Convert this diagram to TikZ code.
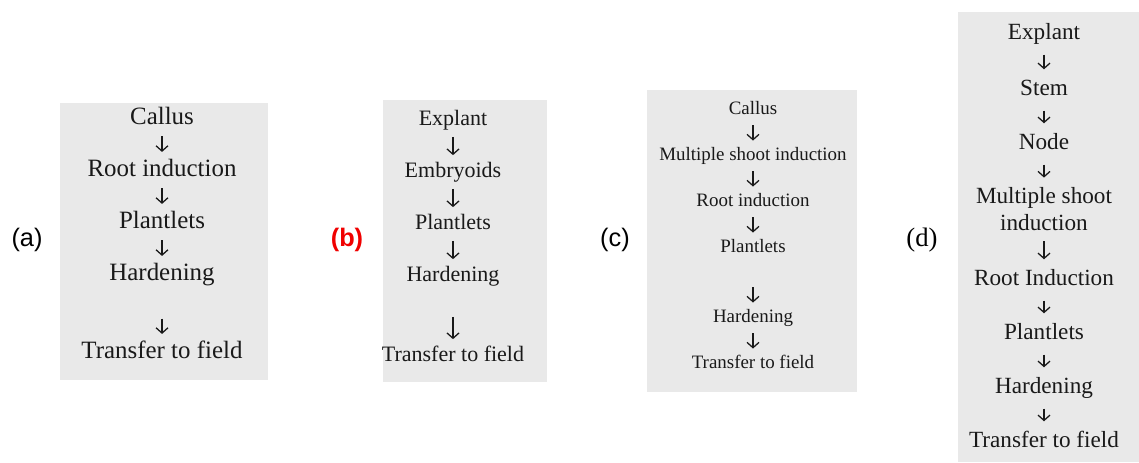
\documentclass[tikz,border=0pt]{standalone}
\usepackage{fontspec}
\setmainfont{Liberation Serif}
\newfontfamily\tagfont{Liberation Sans}
\usetikzlibrary{arrows.meta,positioning}
\definecolor{paper}{RGB}{233,233,233}
\definecolor{ink}{RGB}{25,25,25}
\definecolor{tagred}{RGB}{240,0,0}

\begin{document}
\begin{tikzpicture}[x=0.75pt,y=-0.75pt,
                    >={Straight Barb[length=4pt,width=9pt]},
                    flow/.style={->,draw=ink,line width=0.95pt,shorten <=5pt,shorten >=5pt},
                    tag/.style={font=\tagfont\fontsize{19}{22}\selectfont}]

  \useasboundingbox (0,0) rectangle (1139,462);

  % scanned paper pieces
  \fill[paper] (60,103) rectangle (268,380);
  \fill[paper] (383,100) rectangle (547,382);
  \fill[paper] (647,90) rectangle (857,392);
  \fill[paper] (958,12) rectangle (1139,462);

  % option labels
  \node[tag] (taga) at (27,240) {(a)};
  \node[tag,font=\tagfont\bfseries\fontsize{19}{22}\selectfont,text=tagred] (tagb) at (347,240) {(b)};
  \node[tag] (tagc) at (615,240) {(c)};
  \node[tag,font=\rmfamily\fontsize{20}{23}\selectfont] (tagd) at (922,240) {(d)};

  % (a)
  \begin{scope}[font=\fontsize{18.7}{21}\selectfont,node distance=39pt,text=ink,
                stage/.style={inner sep=0pt,text height=13pt,text depth=3.7pt}]
    \node[stage] (a1) at (162,118) {Callus};
    \node[stage] (a2) [below of=a1] {Root induction};
    \node[stage] (a3) [below of=a2] {Plantlets};
    \node[stage] (a4) [below of=a3] {Hardening};
    \node[stage] (a5) [node distance=58.5pt,below of=a4] {Transfer to field};

    \path (a1) edge[flow] (a2)
          (a2) edge[flow] (a3)
          (a3) edge[flow] (a4)
          (a4) edge[flow,shorten <=25pt] (a5);
  \end{scope}

  % (b)
  \begin{scope}[font=\fontsize{16.5}{19}\selectfont,node distance=39pt,text=ink,
                stage/.style={inner sep=0pt,text height=11.6pt,text depth=3.3pt}]
    \node[stage] (b1) at (453,120) {Explant};
    \node[stage] (b2) [below of=b1] {Embryoids};
    \node[stage] (b3) [below of=b2] {Plantlets};
    \node[stage] (b4) [below of=b3] {Hardening};
    \node[stage] (b5) [node distance=60pt,below of=b4] {Transfer to field};

    \path (b1) edge[flow] (b2)
          (b2) edge[flow] (b3)
          (b3) edge[flow] (b4)
          (b4) edge[flow,shorten <=23pt] (b5);
  \end{scope}

  % (c)
  \begin{scope}[font=\fontsize{14.2}{16.5}\selectfont,node distance=34.5pt,text=ink,
                stage/.style={inner sep=0pt,text height=10pt,text depth=2.8pt}]
    \node[stage] (c1) at (753,110) {Callus};
    \node[stage] (c2) [below of=c1] {Multiple shoot induction};
    \node[stage] (c3) [below of=c2] {Root induction};
    \node[stage] (c4) [below of=c3] {Plantlets};
    \node[stage] (c5) [node distance=52.5pt,below of=c4] {Hardening};
    \node[stage] (c6) [below of=c5] {Transfer to field};

    \path (c1) edge[flow] (c2)
          (c2) edge[flow] (c3)
          (c3) edge[flow] (c4)
          (c4) edge[flow,shorten <=23pt] (c5)
          (c5) edge[flow] (c6);
  \end{scope}

  % (d)
  \begin{scope}[font=\fontsize{17.4}{20}\selectfont,node distance=40.5pt,text=ink,
                stage/.style={inner sep=0pt,text height=12.2pt,text depth=3.5pt},
                flow/.append style={shorten <=7.5pt,shorten >=7.5pt}]
    \node[stage] (d1) at (1044,34) {Explant};
    \node[stage] (d2) [node distance=42pt,below of=d1] {Stem};
    \node[stage] (d3) [below of=d2] {Node};
    \node[inner sep=0pt,align=center] (d4) [node distance=49pt,below of=d3] {Multiple shoot\\induction};
    \node[stage] (d5) [node distance=53pt,below of=d4] {Root Induction};
    \node[stage] (d6) [below of=d5] {Plantlets};
    \node[stage] (d7) [below of=d6] {Hardening};
    \node[stage] (d8) [below of=d7] {Transfer to field};

    \path (d1) edge[flow] (d2)
          (d2) edge[flow] (d3)
          (d3) edge[flow] (d4)
          (d4) edge[flow] (d5)
          (d5) edge[flow] (d6)
          (d6) edge[flow] (d7)
          (d7) edge[flow] (d8);
  \end{scope}
\end{tikzpicture}
\end{document}
